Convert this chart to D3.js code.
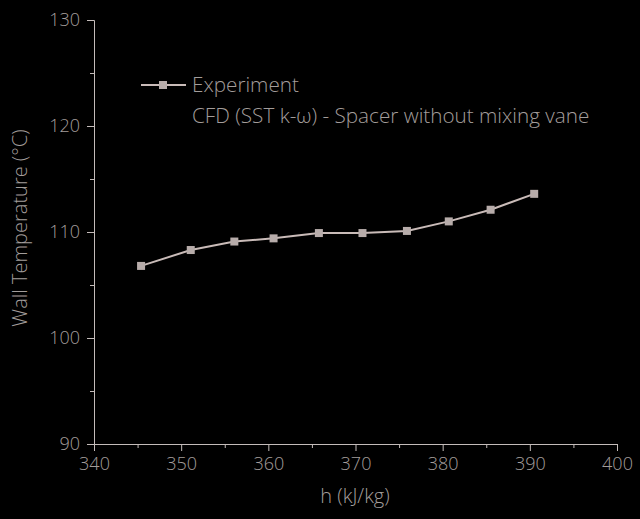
<!DOCTYPE html>
<html>
<head>
<meta charset="utf-8">
<script src="https://cdn.jsdelivr.net/npm/d3@7"></script>
<style>
  html, body { margin: 0; padding: 0; background: #000; }
  text { font-family: "Open Sans", "Noto Sans", sans-serif; font-weight: 300; }
</style>
</head>
<body>
<svg id="vis" width="640" height="519"></svg>
<script>
// enthalpy (kJ/kg) and measured wall temperature (C)
const enthalpy = [345.4, 351.1, 356.1, 360.6, 365.8, 370.8, 375.9, 380.7, 385.5, 390.5];
const wallTemp = [106.8, 108.3, 109.1, 109.4, 109.9, 109.9, 110.1, 111.0, 112.1, 113.6];
const xTicks = [340, 350, 360, 370, 380, 390, 400];
const yTicks = [90, 100, 110, 120, 130];
const seriesNames = ["Experiment", "CFD (SST k-\u03c9) - Spacer without mixing vane"];

const svg = d3.select("#vis");
const axisColor = "#c4bcba";
const textColor = "#a39d9b";

const x = d3.scaleLinear().domain([340, 400]).range([94, 617]);
const y = d3.scaleLinear().domain([90, 130]).range([444, 20]);

// minor ticks
svg.append("g")
    .attr("transform", "translate(0,444)")
    .call(d3.axisBottom(x).tickValues(d3.range(345, 400, 10)).tickSize(4).tickFormat(""))
    .call(g => g.select(".domain").remove());
svg.append("g")
    .attr("transform", "translate(94,0)")
    .call(d3.axisLeft(y).tickValues(d3.range(95, 130, 10)).tickSize(4).tickFormat(""))
    .call(g => g.select(".domain").remove());

svg.append("g")
    .attr("transform", "translate(0,444)")
    .call(d3.axisBottom(x).tickValues(xTicks).tickSizeOuter(0).tickSize(7).tickPadding(6));

svg.append("g")
    .attr("transform", "translate(94,0)")
    .call(d3.axisLeft(y).tickValues(yTicks).tickSizeOuter(0).tickSize(7).tickPadding(7));

svg.selectAll(".domain, .tick line").attr("stroke", axisColor);
svg.selectAll(".tick text")
    .attr("fill", textColor)
    .attr("font-size", 18)
    .attr("font-family", "'Open Sans', sans-serif")
    .attr("font-weight", 300);

// axis titles
svg.append("text")
    .attr("x", 355).attr("y", 503)
    .attr("text-anchor", "middle")
    .attr("fill", textColor).attr("font-size", 20)
    .text("h (kJ/kg)");

svg.append("text")
    .attr("transform", "translate(27,228) rotate(-90)")
    .attr("text-anchor", "middle")
    .attr("fill", textColor).attr("font-size", 20)
    .text("Wall Temperature (\u00b0C)");

// experiment series
const pts = enthalpy.map((h, i) => [h, wallTemp[i]]);
const lineColor = "#c9bbb8";
const markerFill = "#b7acaa";

svg.append("path")
    .datum(pts)
    .attr("fill", "none")
    .attr("stroke", lineColor)
    .attr("stroke-width", 2)
    .attr("d", d3.line().x(d => x(d[0])).y(d => y(d[1])));

svg.append("g")
    .selectAll("rect")
    .data(pts)
    .join("rect")
    .attr("x", d => x(d[0]) - 4)
    .attr("y", d => y(d[1]) - 4)
    .attr("width", 8).attr("height", 8)
    .attr("fill", markerFill);

// legend
const legend = svg.append("g");
legend.append("line")
    .attr("x1", 141).attr("x2", 186)
    .attr("y1", 85).attr("y2", 85)
    .attr("stroke", lineColor).attr("stroke-width", 2);
legend.append("rect")
    .attr("x", 159).attr("y", 81).attr("width", 8).attr("height", 8)
    .attr("fill", markerFill);
legend.selectAll("text.lbl")
    .data(seriesNames)
    .join("text")
    .attr("class", "lbl")
    .attr("x", 192)
    .attr("y", (d, i) => 92 + i * 31)
    .attr("fill", textColor)
    .attr("font-size", 20.7)
    .text(d => d);
</script>
</body>
</html>
